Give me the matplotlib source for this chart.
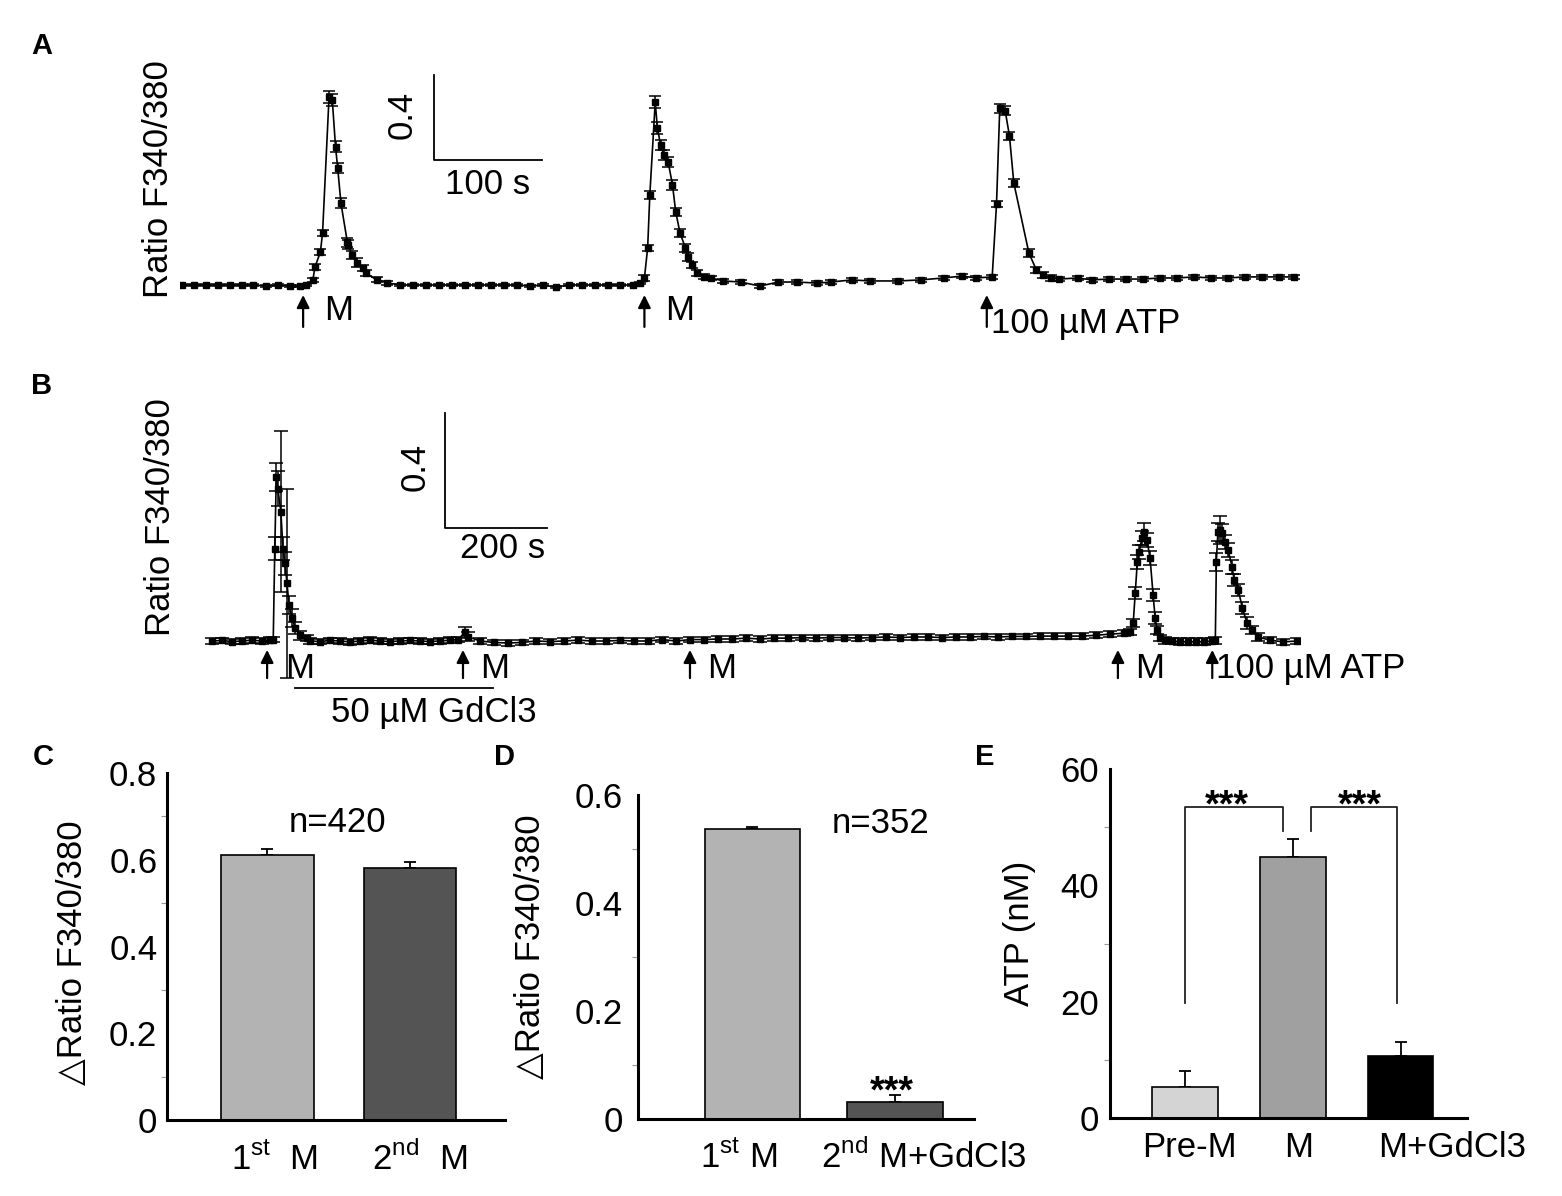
import matplotlib.pyplot as plt
from matplotlib.transforms import blended_transform_factory as blend

plt.rcParams['font.family'] = ['Liberation Sans', 'DejaVu Sans']
plt.rcParams['mathtext.fontset'] = 'custom'
plt.rcParams['mathtext.rm'] = 'Liberation Sans'
FS = 25

# ---- Panel A: trace (time in s, ratio F340/380, SEM)
a_time = [2, 13, 24, 35, 46, 57, 68, 80, 91, 102, 111, 117,
          123, 125, 130, 132, 138, 141, 144, 146, 149, 155, 156, 159, 164, 169, 172, 182, 192,
          204, 216, 228, 240, 252, 264, 276, 288, 300, 312, 324, 336, 348, 360, 372, 384, 396, 407, 419, 426,
          430, 433, 435, 440, 442, 445, 448, 452, 456, 459, 463, 468, 470, 474, 479, 485, 492, 503,
          519, 537, 554, 571, 590, 603, 622, 639, 665, 686, 707, 724, 737, 752,
          756, 759, 764, 768, 772, 786, 793, 799, 806, 814, 831, 844,
          860, 876, 892, 907, 923, 939, 955, 970, 986, 1002, 1018, 1031]
a_ratio = [0.50, 0.50, 0.50, 0.50, 0.50, 0.50, 0.50, 0.495, 0.50, 0.495, 0.495, 0.50,
           0.524, 0.585, 0.655, 0.745, 1.384, 1.37, 1.15, 1.05, 0.885, 0.70, 0.69, 0.64, 0.605, 0.58, 0.555, 0.525, 0.51,
           0.50, 0.50, 0.50, 0.50, 0.50, 0.50, 0.50, 0.50, 0.50, 0.50, 0.495, 0.50, 0.49, 0.50, 0.50, 0.50, 0.50, 0.50, 0.50, 0.51,
           0.533, 0.674, 0.923, 1.36, 1.238, 1.158, 1.111, 1.078, 0.97, 0.843, 0.744, 0.674, 0.632, 0.594, 0.556, 0.538, 0.533, 0.519,
           0.514, 0.495, 0.514, 0.514, 0.509, 0.514, 0.524, 0.519, 0.519, 0.524, 0.533, 0.542, 0.533, 0.538,
           0.88, 1.33, 1.32, 1.20, 0.98, 0.65, 0.57, 0.547, 0.533, 0.528, 0.533, 0.524,
           0.528, 0.528, 0.528, 0.533, 0.533, 0.538, 0.533, 0.533, 0.538, 0.538, 0.538, 0.538]
a_sem = [0.006] * 12 + \
        [0.01, 0.015, 0.015, 0.015, 0.03, 0.03, 0.025, 0.025, 0.025, 0.02, 0.02, 0.02, 0.02, 0.015, 0.015, 0.012, 0.01] + \
        [0.006] * 20 + \
        [0.012, 0.015, 0.02, 0.03, 0.03, 0.025, 0.025, 0.025, 0.025, 0.02, 0.02, 0.02, 0.02, 0.015, 0.015, 0.012, 0.01, 0.01] + \
        [0.008] * 14 + \
        [0.015, 0.02, 0.02, 0.02, 0.02, 0.02, 0.015, 0.015, 0.012, 0.01, 0.01, 0.01] + \
        [0.01] * 12
a_arrows = [114, 430, 747]
a_arrow_text = ['M', 'M', '100 µM ATP']

# ---- Panel B: trace
b_time = [4, 24, 43, 63, 82, 102, 118,
          124, 127, 130, 133, 139, 143, 147, 151, 155, 161, 167, 176, 190,
          196, 216, 235, 255, 275, 294, 314, 333, 353, 373, 392, 412, 431, 451, 471, 486,
          500, 506,
          529, 557, 584, 612, 639, 667, 694, 722, 749, 776, 804, 831, 859, 886, 914, 941,
          969, 996, 1024, 1051, 1078, 1106, 1133, 1161, 1188, 1216, 1243, 1271, 1298, 1325, 1353,
          1380, 1408, 1435, 1463, 1490, 1518, 1545, 1573, 1600, 1627, 1655, 1682,
          1710, 1737, 1765, 1792,
          1804, 1810, 1814, 1818, 1822, 1827, 1831, 1837, 1843, 1849, 1853, 1857, 1863,
          1873, 1886, 1902, 1918, 1933, 1949, 1965, 1971,
          1973, 1976, 1980, 1984, 1990, 1996, 2004, 2008, 2016, 2024, 2033, 2043, 2055, 2078, 2104, 2131]
b_ratio = [0.50, 0.502, 0.498, 0.50, 0.503, 0.50, 0.505,
           0.505, 0.82, 1.07, 1.03, 0.95, 0.82, 0.77, 0.70, 0.625, 0.58, 0.545, 0.52, 0.51,
           0.50, 0.498, 0.502, 0.50, 0.497, 0.50, 0.503, 0.50, 0.498, 0.50, 0.502, 0.50, 0.498, 0.50, 0.503, 0.505,
           0.53, 0.515,
           0.50, 0.495, 0.493, 0.495, 0.50, 0.498, 0.50, 0.503, 0.50, 0.50, 0.502, 0.50, 0.50, 0.505, 0.50, 0.505,
           0.505, 0.507, 0.507, 0.51, 0.507, 0.51, 0.51, 0.512, 0.51, 0.512, 0.512, 0.51, 0.512, 0.514, 0.512,
           0.514, 0.514, 0.512, 0.514, 0.514, 0.516, 0.514, 0.516, 0.516, 0.517, 0.517, 0.517,
           0.517, 0.52, 0.524, 0.527,
           0.531, 0.563, 0.667, 0.775, 0.81, 0.858, 0.879, 0.851, 0.789, 0.66, 0.58, 0.538, 0.51,
           0.503, 0.50, 0.497, 0.497, 0.497, 0.497, 0.50, 0.503,
           0.775, 0.879, 0.886, 0.876, 0.844, 0.816, 0.757, 0.712, 0.677, 0.615, 0.563, 0.538, 0.514, 0.503, 0.497, 0.50]
b_sem = [0.01] * 7 + \
        [0.01, 0.04, 0.05, 0.06, 0.28, 0.04, 0.04, 0.33, 0.03, 0.03, 0.02, 0.015, 0.01] + \
        [0.01] * 16 + [0.02, 0.015] + [0.01] * 47 + \
        [0.01, 0.015, 0.02, 0.025, 0.025, 0.025, 0.03, 0.025, 0.025, 0.02, 0.02, 0.015, 0.01] + \
        [0.012] * 8 + \
        [0.03, 0.03, 0.05, 0.03, 0.025, 0.025, 0.025, 0.02, 0.02, 0.02, 0.02, 0.015, 0.015, 0.01, 0.01, 0.01]
b_arrows = [112, 496, 941, 1780, 1965]
b_arrow_text = ['M', 'M', 'M', 'M', '100 µM ATP']
gd_span = [167, 555]

# ---- Panels C, D, E: bars
c_labels = [r'1$^{\rm st}$  M', r'2$^{\rm nd}$  M']
c_vals = [0.61, 0.58]
c_err = [0.015, 0.015]
d_labels = [r'1$^{\rm st}$ M', r'2$^{\rm nd}$ M+GdCl3']
d_vals = [0.537, 0.031]
d_err = [0.004, 0.013]
e_labels = ['Pre-M', 'M', 'M+GdCl3']
e_vals = [5.3, 44.8, 10.6]
e_err = [2.8, 3.1, 2.4]

W, H = 1562, 1196
fig = plt.figure(figsize=(W / 100, H / 100), dpi=100)


def px_axes(x0, y0, x1, y1):
    return fig.add_axes([x0 / W, 1 - y1 / H, (x1 - x0) / W, (y1 - y0) / H])


def ftext(x, y, s, **kw):
    fig.text(x / W, 1 - y / H, s, ha='center', va='center', **kw)


def trace(ax, t, r, e, cap):
    ax.errorbar(t, r, yerr=e, fmt='-s', color='k', ms=4.5, lw=1.2,
                elinewidth=1.1, capsize=cap, capthick=1.1)
    ax.axis('off')


def arrows(ax, xs, labels, head, tail, ytxt, dx, yatp):
    for x, lab in zip(xs, labels):
        ax.annotate('', xy=(x, head), xytext=(x, tail),
                    arrowprops=dict(arrowstyle='-|>', color='k', lw=1.6, mutation_scale=19,
                                    shrinkA=0, shrinkB=0))
        if lab == 'M':
            ax.text(x + dx, ytxt, lab, fontsize=FS, ha='center', va='center')
        else:
            ax.text(x + dx * 0.12, yatp, lab, fontsize=FS, ha='left', va='center')


# Panel A
axA = px_axes(180, 60, 1300, 340)
trace(axA, a_time, a_ratio, a_sem, 4)
axA.set_xlim(0, 1037)
axA.set_ylim(0.2415, 1.5575)
arrows(axA, a_arrows, a_arrow_text, 0.453, 0.303, 0.382, 33, 0.321)
axA.plot([235, 235, 335], [1.488, 1.088, 1.088], color='k', lw=1.3)
axA.text(205.5, 1.30, '0.4', rotation=90, fontsize=FS, ha='center', va='center')
axA.text(285, 0.97, '100 s', fontsize=FS, ha='center', va='center')

# Panel B
axB = px_axes(200, 390, 1300, 700)
trace(axB, b_time, b_ratio, b_sem, 5)
axB.set_xlim(-19.6, 2137)
axB.set_ylim(0.2948, 1.373)
arrows(axB, b_arrows, b_arrow_text, 0.469, 0.371, 0.406, 63, 0.406)
axB.plot(gd_span, [0.337, 0.337], color='k', lw=1.3)
axB.text(439, 0.253, '50 µM GdCl3', fontsize=FS, ha='center', va='center')
axB.plot([461, 461, 661], [1.293, 0.893, 0.893], color='k', lw=1.3)
axB.text(402, 1.105, '0.4', rotation=90, fontsize=FS, ha='center', va='center')
axB.text(573, 0.82, '200 s', fontsize=FS, ha='center', va='center')

ftext(158, 179, 'Ratio F340/380', rotation=90, fontsize=FS)
ftext(160, 517, 'Ratio F340/380', rotation=90, fontsize=FS)


def bar_axes(ax, x, vals, err, colors, width, labels, label_x, label_y):
    ax.bar(x, vals, width, color=colors, edgecolor='k', linewidth=1.2, zorder=2)
    ax.errorbar(x, vals, yerr=[[0] * len(vals), err], fmt='none', ecolor='k',
                capsize=4, elinewidth=1.3, capthick=1.3, zorder=1)
    for s in ['top', 'right']:
        ax.spines[s].set_visible(False)
    for s in ['left', 'bottom']:
        ax.spines[s].set_linewidth(2.2)
    ax.set_xticks([])
    tr = blend(ax.transData, ax.transAxes)
    for lx, lab in zip(label_x, labels):
        ax.text(lx, label_y, lab, transform=tr, fontsize=FS, ha='center', va='baseline')


# Panel C
axC = px_axes(167, 773, 505, 1120)
bar_axes(axC, [1, 2], c_vals, c_err, ['#b3b3b3', '#545454'], 0.65,
         c_labels, [1.05, 2.07], -0.144)
axC.set_xlim(0.295, 2.667)
axC.set_ylim(0, 0.8)
axC.set_yticks([0, 0.2, 0.4, 0.6, 0.8])
axC.set_yticklabels(['0', '0.2', '0.4', '0.6', '0.8'])
axC.set_yticks([0.1, 0.3, 0.5, 0.7], minor=True)
axC.tick_params(axis='y', which='major', length=0, pad=7, labelsize=FS)
axC.tick_params(axis='y', which='minor', length=4, width=0.8, color='#999999')
axC.text(1.49, 0.687, 'n=420', fontsize=FS, ha='center', va='center')
ftext(72, 953, '△Ratio F340/380', rotation=90, fontsize=FS)

# Panel D
axD = px_axes(638, 795, 974, 1119)
bar_axes(axD, [1, 2], d_vals, d_err, ['#b3b3b3', '#545454'], 0.667,
         d_labels, [0.905, 2.2], -0.151)
axD.set_xlim(0.2, 2.554)
axD.set_ylim(0, 0.6)
axD.set_yticks([0, 0.2, 0.4, 0.6])
axD.set_yticklabels(['0', '0.2', '0.4', '0.6'])
axD.set_yticks([0.1, 0.3, 0.5], minor=True)
axD.tick_params(axis='y', which='major', length=0, pad=11, labelsize=FS)
axD.tick_params(axis='y', which='minor', length=4, width=0.8, color='#999999')
axD.text(1.9, 0.548, 'n=352', fontsize=FS, ha='center', va='center')
axD.text(1.98, 0.03, '***', fontsize=27, weight='bold', ha='center', va='baseline')
ftext(531, 947, '△Ratio F340/380', rotation=90, fontsize=FS)

# Panel E
axE = px_axes(1110, 769, 1467, 1118)
bar_axes(axE, [1, 2, 3], e_vals, e_err, ['#d4d4d4', '#a0a0a0', '#000000'], 0.61,
         e_labels, [1.04, 2.05, 3.48], -0.112)
axE.set_xlim(0.304, 3.617)
axE.set_ylim(0, 60)
axE.set_yticks([0, 20, 40, 60])
axE.set_yticks([10, 30, 50], minor=True)
axE.tick_params(axis='y', which='major', length=0, pad=8, labelsize=FS)
axE.tick_params(axis='y', which='minor', length=4, width=0.8, color='#999999')
axE.plot([1.0, 1.0, 1.91, 1.91], [19.7, 53.4, 53.4, 49.3], color='#222222', lw=1.3)
axE.plot([2.17, 2.17, 2.97, 2.97], [49.3, 53.4, 53.4, 19.7], color='#222222', lw=1.3)
axE.text(1.39, 51.9, '***', fontsize=27, weight='bold', ha='center', va='baseline')
axE.text(2.62, 51.9, '***', fontsize=27, weight='bold', ha='center', va='baseline')
ftext(1020, 933, 'ATP (nM)', rotation=90, fontsize=FS)

# panel letters
for lab, x, y in [('A', 42, 46), ('B', 42, 386), ('C', 43, 757), ('D', 505, 757), ('E', 985, 757)]:
    ftext(x, y, lab, fontsize=21, weight='bold')

fig.savefig('out.png', dpi=100)
